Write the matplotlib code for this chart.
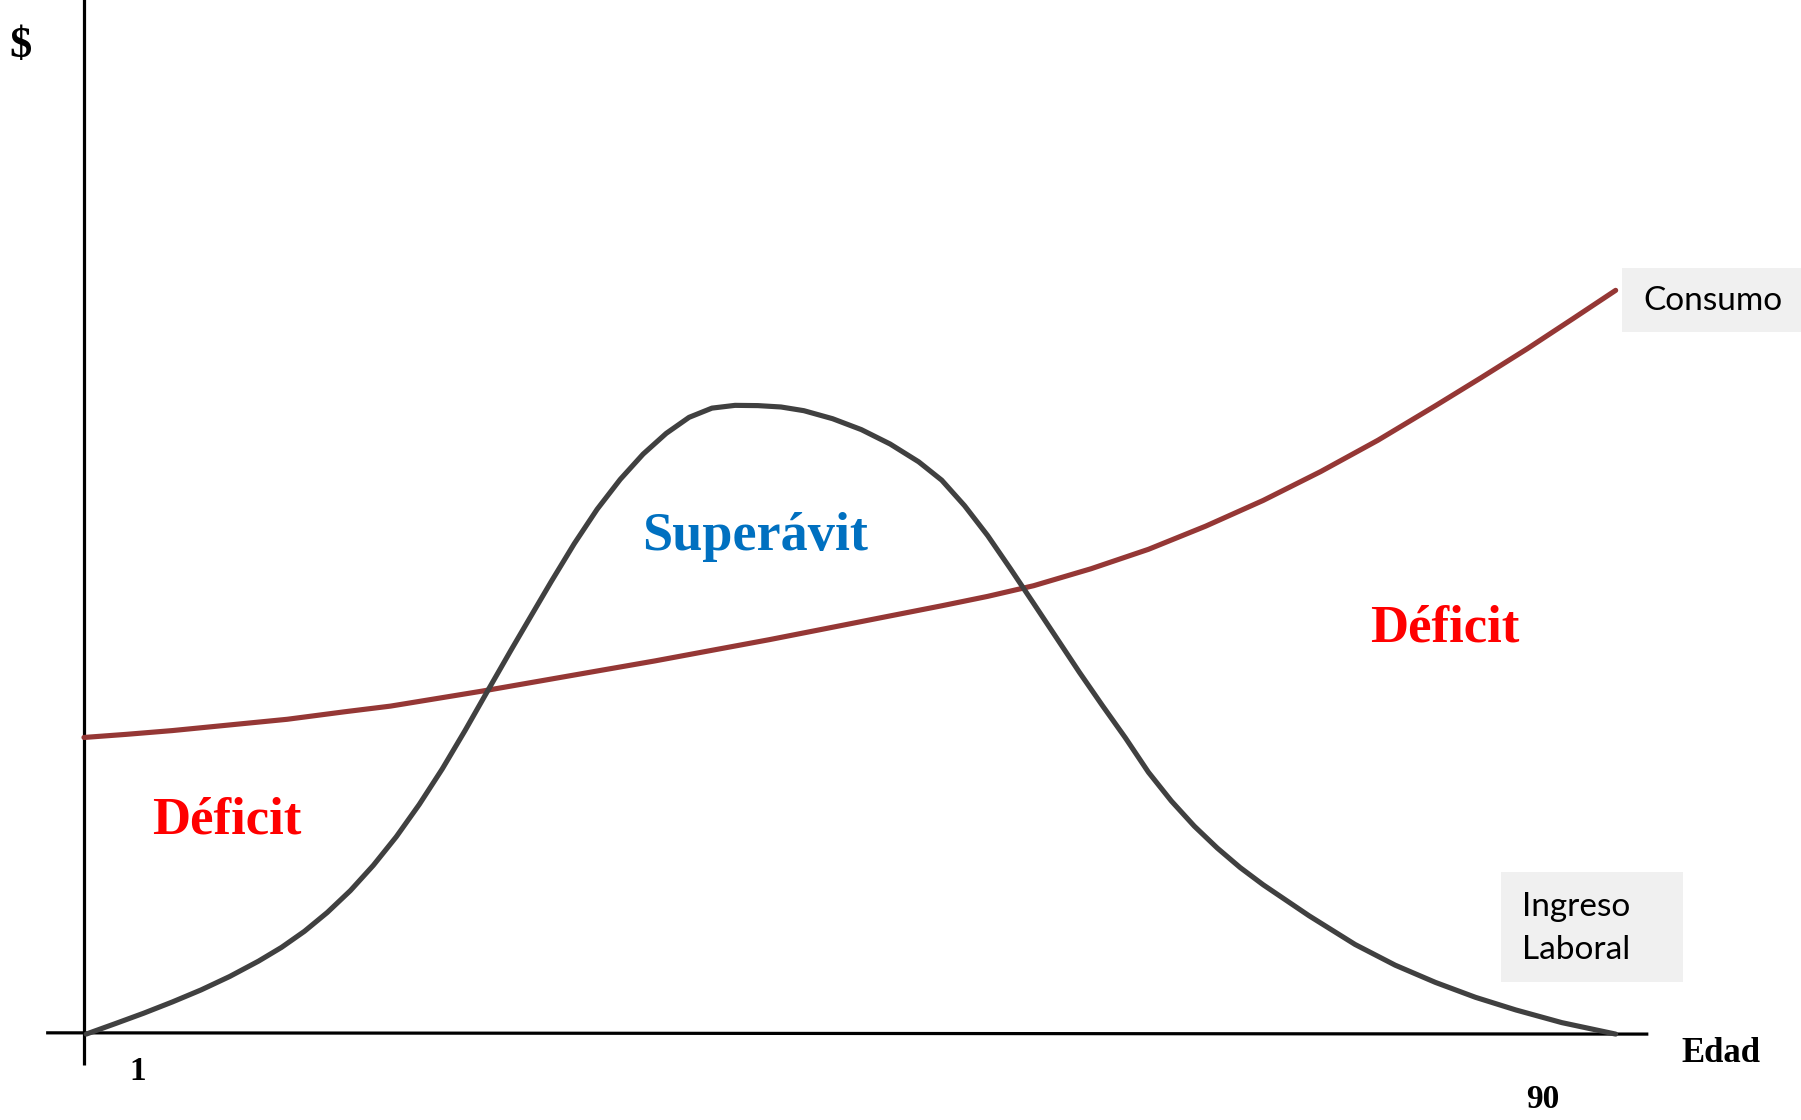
import matplotlib
matplotlib.use("Agg")
import matplotlib.pyplot as plt
from matplotlib.patches import Rectangle

# ─────────────────────────────────────────────
# DATA (age vs. $ in arbitrary units)
# ─────────────────────────────────────────────
ingreso_edad = [1.13, 2.80, 4.47, 6.14, 7.81, 9.47, 11.14, 12.48, 13.81, 15.14,
                16.48, 17.81, 19.15, 20.48, 21.82, 23.15, 24.48, 25.82, 27.15, 28.15,
                29.49, 30.82, 32.16, 33.49, 34.83, 36.16, 37.49, 38.83, 40.16, 41.50,
                42.83, 44.50, 46.17, 47.84, 49.50, 50.84, 52.17, 53.51, 54.84, 56.18,
                57.51, 58.84, 60.18, 61.51, 62.85, 64.18, 65.52, 66.85, 68.18, 69.52,
                72.19, 74.86, 77.19, 79.53, 81.86, 84.20, 86.87, 90.00]
ingreso_valor = [0.0, 1.65, 3.33, 5.13, 7.05, 9.19, 11.63, 13.83, 16.39, 19.40,
                 22.88, 26.90, 31.48, 36.61, 42.29, 48.44, 54.85, 61.26, 67.49, 72.16,
                 78.21, 83.70, 88.46, 92.49, 95.79, 98.35, 99.82, 100.26, 100.22, 100.00,
                 99.41, 98.13, 96.39, 94.10, 91.26, 88.33, 84.25, 79.49, 74.18, 68.68,
                 63.19, 57.69, 52.38, 47.25, 41.76, 37.18, 33.15, 29.67, 26.56, 23.81,
                 18.86, 14.29, 10.99, 8.24, 5.86, 3.85, 1.83, 0.0]

consumo_edad = [1.00, 3.47, 6.14, 9.47, 12.81, 16.15, 18.81, 21.48, 24.15, 27.49,
                30.82, 34.16, 37.49, 40.83, 44.17, 47.50, 50.84, 53.51, 56.18, 59.51,
                62.85, 66.18, 69.52, 72.86, 76.19, 79.53, 82.20, 84.87, 87.53, 90.00]
consumo_valor = [47.3, 47.8, 48.4, 49.3, 50.2, 51.4, 52.3, 53.5, 54.7, 56.3,
                 57.9, 59.5, 61.2, 62.9, 64.7, 66.5, 68.3, 69.8, 71.5, 74.2,
                 77.3, 81.0, 85.1, 89.7, 94.7, 100.2, 104.7, 109.3, 114.1, 118.6]

edad_ticks = [1, 90]

W, H = 1801, 1120
SERIF = ["Liberation Serif", "DejaVu Serif"]
SANS = ["Lato", "DejaVu Sans"]


def fx(px):
    return px / W


def fy(py):
    return 1 - py / H


fig = plt.figure(figsize=(W / 100, H / 100), dpi=100)
ax = fig.add_axes([0, 0, 1, 1])
ax.set_xlim(-3.88, 100.77)
ax.set_ylim(-13.7, 164.9)
ax.axis("off")

# axes drawn as plain lines
ax.plot([-1.2, 91.9], [0.2, 0.0], color="black", lw=2.3, solid_capstyle="butt")
ax.plot([1.0, 1.0], [-4.9, 170], color="black", lw=2.3, solid_capstyle="butt")

ax.plot(consumo_edad, consumo_valor, color="#953735", lw=3.7,
        solid_joinstyle="round", solid_capstyle="round")
ax.plot(ingreso_edad, ingreso_valor, color="#404040", lw=3.7,
        solid_joinstyle="round", solid_capstyle="round")

# axis labels / ticks
fig.text(fx(20), fy(46), "$", family=SERIF, weight="bold", fontsize=32,
         ha="center", va="center")
fig.text(fx(1721), fy(1054), "Edad", family=SERIF, weight="bold", fontsize=25,
         ha="center", va="center")
fig.text(fx(138), fy(1071), str(edad_ticks[0]), family=SERIF, weight="bold",
         fontsize=24, ha="center", va="center")
fig.text(fx(1543), fy(1099), str(edad_ticks[1]), family=SERIF, weight="bold",
         fontsize=24, ha="center", va="center")

# region labels
fig.text(fx(755), fy(537), "Superávit", family=SERIF, weight="bold",
         fontsize=39, color="#0070C0", ha="center", va="center")
fig.text(fx(1445), fy(628), "Déficit", family=SERIF, weight="bold",
         fontsize=38, color="#FF0000", ha="center", va="center")
fig.text(fx(227), fy(821), "Déficit", family=SERIF, weight="bold",
         fontsize=38, color="#FF0000", ha="center", va="center")

# series label boxes
fig.patches.append(Rectangle((fx(1622), fy(332)), fx(1801) - fx(1622),
                             fy(268) - fy(332), transform=fig.transFigure,
                             facecolor="#F0F0F0", edgecolor="none"))
fig.text(fx(1713), fy(301), "Consumo", family=SANS, fontsize=24,
         ha="center", va="center")

fig.patches.append(Rectangle((fx(1501), fy(982)), fx(1683) - fx(1501),
                             fy(872) - fy(982), transform=fig.transFigure,
                             facecolor="#F0F0F0", edgecolor="none"))
fig.text(fx(1522), fy(907), "Ingreso", family=SANS, fontsize=24,
         ha="left", va="center")
fig.text(fx(1522), fy(950), "Laboral", family=SANS, fontsize=24,
         ha="left", va="center")

fig.savefig("out.png", dpi=100)
plt.close(fig)
